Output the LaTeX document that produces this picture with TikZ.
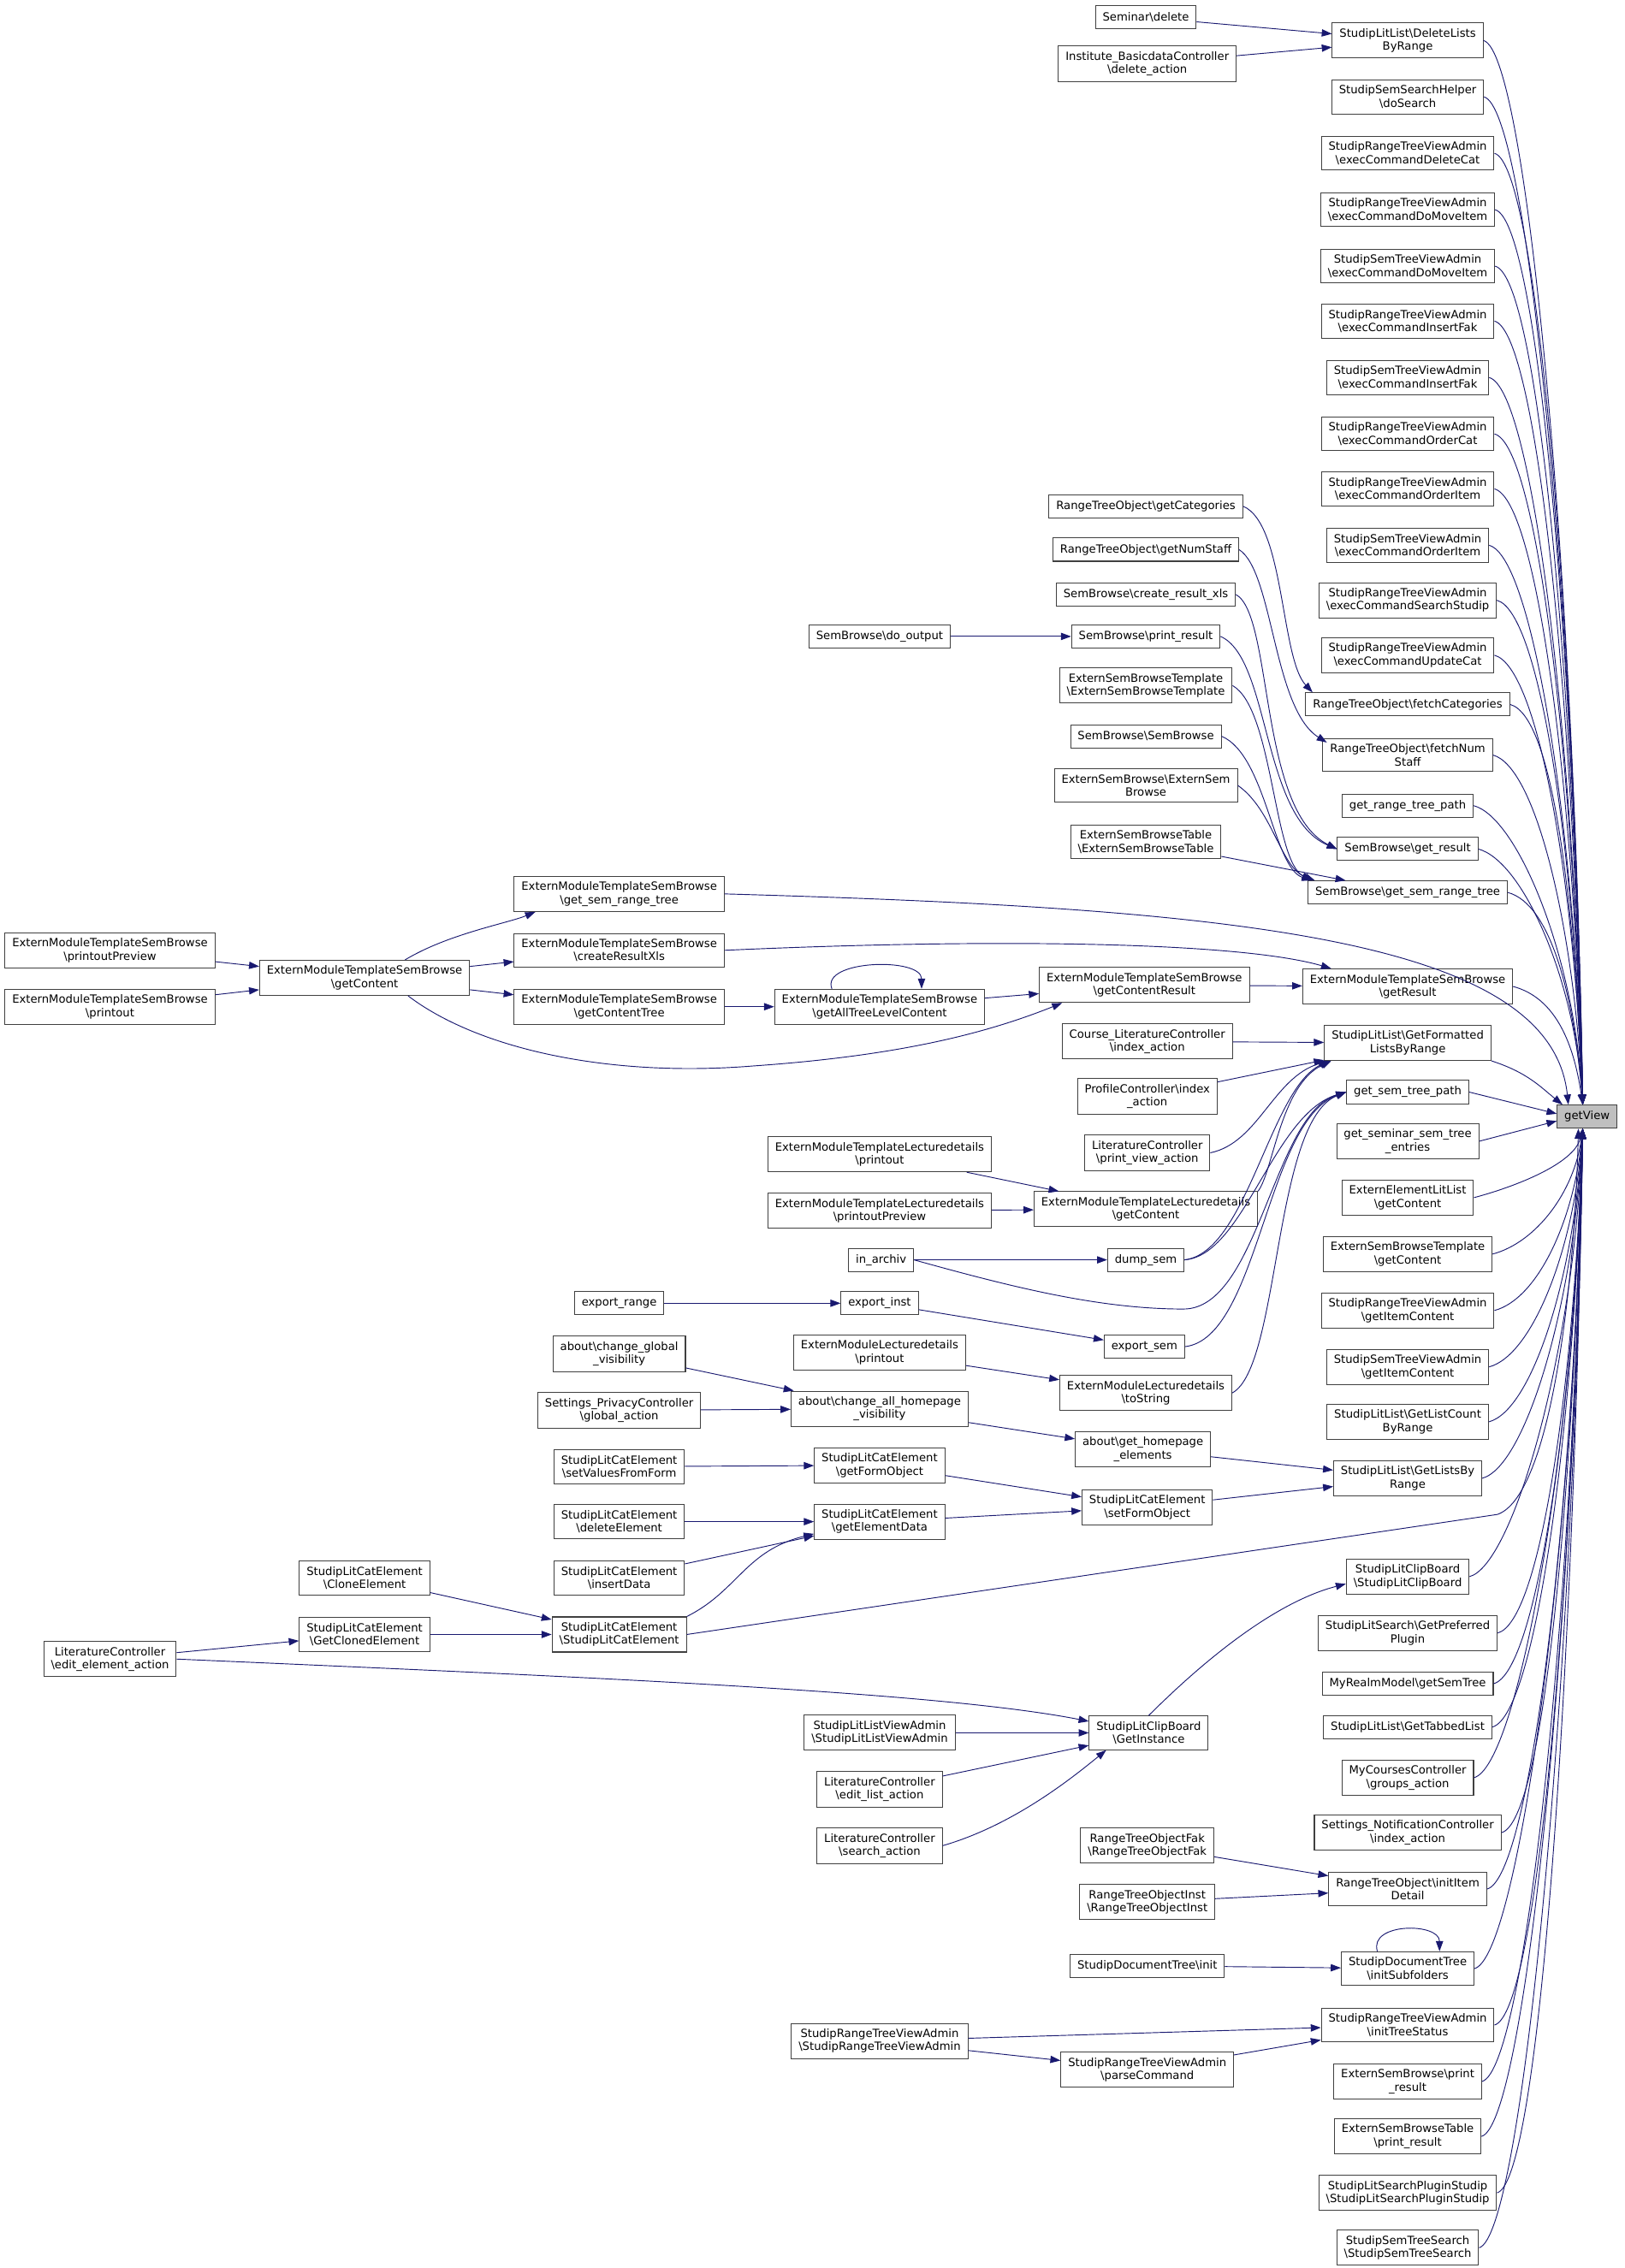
\documentclass[tikz,border=0pt]{standalone}
\usepackage{fontspec}
\setmainfont{DejaVu Sans}
\usetikzlibrary{arrows.meta}
\definecolor{callblue}{HTML}{191970}
\definecolor{boxgrey}{HTML}{404040}
\newcommand{\bsl}{\textbackslash}
\tikzset{
  fn/.style={draw=boxgrey, line width=0.6pt, fill=white, align=center, inner xsep=5pt, inner ysep=3.8pt, minimum height=16pt, font=\fontsize{7.8}{9.1}\selectfont},
  call/.style={draw=callblue, line width=0.55pt, -{Triangle[length=7pt,width=5pt]}}
}
\begin{document}
\begin{tikzpicture}[x=1pt,y=-1pt]
\useasboundingbox (0,0) rectangle (1123,1568);

	% callee
	\node [fn, fill=black!25] (getview) at (1097,772) {getView};

	% direct callers
	\node [fn] (r1)  at (973,28)   {StudipLitList\bsl DeleteLists\\ByRange};
	\node [fn] (r2)  at (973,67)   {StudipSemSearchHelper\\\bsl doSearch};
	\node [fn] (r3)  at (973,106)  {StudipRangeTreeViewAdmin\\\bsl execCommandDeleteCat};
	\node [fn] (r4)  at (973,145)  {StudipRangeTreeViewAdmin\\\bsl execCommandDoMoveItem};
	\node [fn] (r5)  at (973,184)  {StudipSemTreeViewAdmin\\\bsl execCommandDoMoveItem};
	\node [fn] (r6)  at (973,222)  {StudipRangeTreeViewAdmin\\\bsl execCommandInsertFak};
	\node [fn] (r7)  at (973,261)  {StudipSemTreeViewAdmin\\\bsl execCommandInsertFak};
	\node [fn] (r8)  at (973,300)  {StudipRangeTreeViewAdmin\\\bsl execCommandOrderCat};
	\node [fn] (r9)  at (973,338)  {StudipRangeTreeViewAdmin\\\bsl execCommandOrderItem};
	\node [fn] (r10) at (973,377)  {StudipSemTreeViewAdmin\\\bsl execCommandOrderItem};
	\node [fn] (r11) at (973,415)  {StudipRangeTreeViewAdmin\\\bsl execCommandSearchStudip};
	\node [fn] (r12) at (973,453)  {StudipRangeTreeViewAdmin\\\bsl execCommandUpdateCat};
	\node [fn] (r13) at (973,487)  {RangeTreeObject\bsl fetchCategories};
	\node [fn] (r14) at (973,522)  {RangeTreeObject\bsl fetchNum\\Staff};
	\node [fn] (r15) at (973,557)  {get\_range\_tree\_path};
	\node [fn] (r16) at (973,587)  {SemBrowse\bsl get\_result};
	\node [fn] (r17) at (973,617)  {SemBrowse\bsl get\_sem\_range\_tree};
	\node [fn] (r18) at (973,682)  {ExternModuleTemplateSemBrowse\\\bsl getResult};
	\node [fn] (r19) at (973,721)  {StudipLitList\bsl GetFormatted\\ListsByRange};
	\node [fn] (r20) at (973,755)  {get\_sem\_tree\_path};
	\node [fn] (r21) at (973,789)  {get\_seminar\_sem\_tree\\\_entries};
	\node [fn] (r22) at (973,828)  {ExternElementLitList\\\bsl getContent};
	\node [fn] (r23) at (973,867)  {ExternSemBrowseTemplate\\\bsl getContent};
	\node [fn] (r24) at (973,906)  {StudipRangeTreeViewAdmin\\\bsl getItemContent};
	\node [fn] (r25) at (973,945)  {StudipSemTreeViewAdmin\\\bsl getItemContent};
	\node [fn] (r26) at (973,983)  {StudipLitList\bsl GetListCount\\ByRange};
	\node [fn] (r27) at (973,1022) {StudipLitList\bsl GetListsBy\\Range};
	\node [fn] (r28) at (973,1090) {StudipLitClipBoard\\\bsl StudipLitClipBoard};
	\node [fn] (r29) at (973,1129) {StudipLitSearch\bsl GetPreferred\\Plugin};
	\node [fn] (r30) at (973,1164) {MyRealmModel\bsl getSemTree};
	\node [fn] (r31) at (973,1194) {StudipLitList\bsl GetTabbedList};
	\node [fn] (r32) at (973,1229) {MyCoursesController\\\bsl groups\_action};
	\node [fn] (r33) at (973,1267) {Settings\_NotificationController\\\bsl index\_action};
	\node [fn] (r34) at (973,1306) {RangeTreeObject\bsl initItem\\Detail};
	\node [fn] (r35) at (973,1361) {StudipDocumentTree\\\bsl initSubfolders};
	\node [fn] (r36) at (973,1400) {StudipRangeTreeViewAdmin\\\bsl initTreeStatus};
	\node [fn] (r37) at (973,1439) {ExternSemBrowse\bsl print\\\_result};
	\node [fn] (r38) at (973,1477) {ExternSemBrowseTable\\\bsl print\_result};
	\node [fn] (r39) at (973,1516) {StudipLitSearchPluginStudip\\\bsl StudipLitSearchPluginStudip};
	\node [fn] (r40) at (973,1554) {StudipSemTreeSearch\\\bsl StudipSemTreeSearch};

	% second level
	\node [fn] (sdelete)    at (792,12)   {Seminar\bsl delete};
	\node [fn] (instdel)    at (793,44)   {Institute\_BasicdataController\\\bsl delete\_action};
	\node [fn] (getcat)     at (792,350)  {RangeTreeObject\bsl getCategories};
	\node [fn] (getnum)     at (792,380)  {RangeTreeObject\bsl getNumStaff};
	\node [fn] (xls)        at (792,411)  {SemBrowse\bsl create\_result\_xls};
	\node [fn] (printres)   at (792,440)  {SemBrowse\bsl print\_result};
	\node [fn] (esbtctor)   at (792,474)  {ExternSemBrowseTemplate\\\bsl ExternSemBrowseTemplate};
	\node [fn] (sbctor)     at (792,509)  {SemBrowse\bsl SemBrowse};
	\node [fn] (esbctor)    at (792,543)  {ExternSemBrowse\bsl ExternSem\\Browse};
	\node [fn] (esbtabctor) at (792,582)  {ExternSemBrowseTable\\\bsl ExternSemBrowseTable};
	\node [fn] (contres)    at (791,681)  {ExternModuleTemplateSemBrowse\\\bsl getContentResult};
	\node [fn] (courselit)  at (793,720)  {Course\_LiteratureController\\\bsl index\_action};
	\node [fn] (profile)    at (793,758)  {ProfileController\bsl index\\\_action};
	\node [fn] (printview)  at (793,797)  {LiteratureController\\\bsl print\_view\_action};
	\node [fn] (lecget)     at (792,836)  {ExternModuleTemplateLecturedetails\\\bsl getContent};
	\node [fn] (dumpsem)    at (792,871)  {dump\_sem};
	\node [fn] (exportsem)  at (791,931)  {export\_sem};
	\node [fn] (tostring)   at (792,963)  {ExternModuleLecturedetails\\\bsl toString};
	\node [fn] (homeelem)   at (790,1002) {about\bsl get\_homepage\\\_elements};
	\node [fn] (setform)    at (793,1042) {StudipLitCatElement\\\bsl setFormObject};
	\node [fn] (getinst)    at (794,1198) {StudipLitClipBoard\\\bsl GetInstance};
	\node [fn] (rtofak)     at (793,1276) {RangeTreeObjectFak\\\bsl RangeTreeObjectFak};
	\node [fn] (rtoinst)    at (793,1315) {RangeTreeObjectInst\\\bsl RangeTreeObjectInst};
	\node [fn] (doctree)    at (793,1359) {StudipDocumentTree\bsl init};
	\node [fn] (parsecmd)   at (793,1431) {StudipRangeTreeViewAdmin\\\bsl parseCommand};

	% third level
	\node [fn] (dooutput)   at (608,440)  {SemBrowse\bsl do\_output};
	\node [fn] (alltree)    at (608,696)  {ExternModuleTemplateSemBrowse\\\bsl getAllTreeLevelContent};
	\node [fn] (lecprint)   at (608,798)  {ExternModuleTemplateLecturedetails\\\bsl printout};
	\node [fn] (lecpreview) at (608,837)  {ExternModuleTemplateLecturedetails\\\bsl printoutPreview};
	\node [fn] (inarchiv)   at (609,871)  {in\_archiv};
	\node [fn] (exportinst) at (608,901)  {export\_inst};
	\node [fn] (emlprint)   at (608,935)  {ExternModuleLecturedetails\\\bsl printout};
	\node [fn] (changeall)  at (608,974)  {about\bsl change\_all\_homepage\\\_visibility};
	\node [fn] (getform)    at (608,1013) {StudipLitCatElement\\\bsl getFormObject};
	\node [fn] (elemdata)   at (608,1052) {StudipLitCatElement\\\bsl getElementData};
	\node [fn] (listview)   at (608,1198) {StudipLitListViewAdmin\\\bsl StudipLitListViewAdmin};
	\node [fn] (editlist)   at (608,1237) {LiteratureController\\\bsl edit\_list\_action};
	\node [fn] (searchact)  at (608,1276) {LiteratureController\\\bsl search\_action};
	\node [fn] (rtvactor)   at (608,1411) {StudipRangeTreeViewAdmin\\\bsl StudipRangeTreeViewAdmin};

	% fourth level
	\node [fn] (semrange)   at (428,618)  {ExternModuleTemplateSemBrowse\\\bsl get\_sem\_range\_tree};
	\node [fn] (createxls)  at (428,657)  {ExternModuleTemplateSemBrowse\\\bsl createResultXls};
	\node [fn] (conttree)   at (428,696)  {ExternModuleTemplateSemBrowse\\\bsl getContentTree};
	\node [fn] (exportrange) at (428,901) {export\_range};
	\node [fn] (changeglob) at (428,936)  {about\bsl change\_global\\\_visibility};
	\node [fn] (privacy)    at (428,975)  {Settings\_PrivacyController\\\bsl global\_action};
	\node [fn] (setvalues)  at (428,1014) {StudipLitCatElement\\\bsl setValuesFromForm};
	\node [fn] (delelem)    at (428,1052) {StudipLitCatElement\\\bsl deleteElement};
	\node [fn] (insdata)    at (428,1091) {StudipLitCatElement\\\bsl insertData};
	\node [fn] (catelem)    at (428,1130) {StudipLitCatElement\\\bsl StudipLitCatElement};

	% fifth and sixth level
	\node [fn] (getcontent) at (252,676)  {ExternModuleTemplateSemBrowse\\\bsl getContent};
	\node [fn] (cloneelem)  at (252,1091) {StudipLitCatElement\\\bsl CloneElement};
	\node [fn] (getcloned)  at (252,1130) {StudipLitCatElement\\\bsl GetClonedElement};
	\node [fn] (preview)    at (76,657)   {ExternModuleTemplateSemBrowse\\\bsl printoutPreview};
	\node [fn] (printout)   at (76,696)   {ExternModuleTemplateSemBrowse\\\bsl printout};
	\node [fn] (editelem)   at (76,1147)  {LiteratureController\\\bsl edit\_element\_action};

	% calls into getView
	\foreach \n/\d in {r1/368, r2/349, r3/328, r4/309, r5/290, r6/271, r7/252, r8/232, r9/213, r10/194, r11/175, r12/156, r13/139, r14/121, r15/104, r16/89, r17/74, r18/41}
		\draw [call] (\n.east) .. controls +(30,8) and +(-6,-\d) .. ([xshift=-3pt]getview.north);
	\foreach \n/\d in {r22/24, r23/44, r24/63, r25/83, r26/102, r27/121, r28/155, r29/175, r30/192, r31/207, r32/225, r33/244, r34/263, r35/291, r36/310, r37/330, r38/349, r39/368, r40/387}
		\draw [call] (\n.east) .. controls +(30,-8) and +(-6,\d) .. ([xshift=-3pt]getview.south);
	\draw [call] (r19.south east) .. controls +(25,8) and +(-15,-12) .. ([xshift=4pt]getview.north west);
	\draw [call] (r20.east) -- ([yshift=2pt]getview.west);
	\draw [call] (r21.east) -- ([yshift=-3pt]getview.west);
	\draw [call] (semrange.east) .. controls (850,628) and (1072,648) .. ([xshift=8pt]getview.north west);
	\draw [call] (catelem.east) -- (1035,1047) .. controls (1070,1035) and (1088,900) .. ([xshift=-6pt]getview.south);

	% upper part
	\draw [call] (sdelete) -- (r1);
	\draw [call] (instdel) -- (r1);
	\draw [call] (getcat.east) .. controls (888,362) and (885,455) .. ([xshift=5pt]r13.north west);
	\draw [call] (getnum.east) .. controls (880,395) and (880,490) .. ([xshift=3pt,yshift=-3pt]r14.north west);
	\draw [call] (xls.east) .. controls (880,425) and (870,560) .. (r16.west);
	\draw [call] (printres.east) .. controls (878,455) and (872,565) .. (r16.west);
	\draw [call] (dooutput) -- (printres);
	\draw [call] (esbtctor.east) .. controls (880,490) and (880,595) .. ([xshift=3pt]r17.north west);
	\draw [call] (sbctor.east) .. controls (875,522) and (880,600) .. ([xshift=3pt]r17.north west);
	\draw [call] (esbctor.east) .. controls (880,560) and (885,600) .. ([xshift=5pt]r17.north west);
	\draw [call] (esbtabctor) -- (r17);

	% ExternModuleTemplateSemBrowse
	\draw [call] (preview) -- (getcontent);
	\draw [call] (printout) -- (getcontent);
	\draw [call] ([xshift=28pt]getcontent.north) .. controls +(30,-18) and +(-20,8) .. ([xshift=-58pt]semrange.south);
	\draw [call] (getcontent) -- (createxls);
	\draw [call] (getcontent) -- (conttree);
	\draw [call] ([xshift=30pt]getcontent.south) .. controls (330,725) and (420,745) .. (520,737) .. controls (620,730) and (680,715) .. ([xshift=16pt]contres.south west);
	\draw [call] (conttree) -- (alltree);
	\draw [call] ([xshift=-33pt]alltree.north) .. controls +(-8,-20) and +(0,-22) .. ([xshift=29pt]alltree.north);
	\draw [call] (alltree) -- (contres);
	\draw [call] (contres) -- (r18);
	\draw [call] (createxls.east) .. controls (700,648) and (860,652) .. ([xshift=20pt]r18.north west);

	% literature lists and seminar tree paths
	\draw [call] (courselit) -- (r19);
	\draw [call] (profile) -- (r19);
	\draw [call] (printview.east) .. controls (870,790) and (880,745) .. ([xshift=3pt]r19.south west);
	\draw [call] (lecget.north east) .. controls (880,810) and (885,750) .. ([xshift=5pt]r19.south west);
	\draw [call] (lecprint) -- (lecget);
	\draw [call] (lecpreview) -- (lecget);
	\draw [call] (inarchiv) -- (dumpsem);
	\draw [call] (dumpsem.east) .. controls (860,868) and (880,770) .. (r20.west);
	\draw [call] (dumpsem.east) .. controls (862,866) and (878,752) .. ([xshift=4pt]r19.south west);
	\draw [call] (inarchiv.east) .. controls (700,890) and (760,905) .. (818,905) .. controls (870,905) and (880,770) .. (r20.west);
	\draw [call] (exportrange) -- (exportinst);
	\draw [call] (exportinst) -- (exportsem);
	\draw [call] (exportsem.east) .. controls (870,925) and (875,775) .. (r20.west);
	\draw [call] (emlprint) -- (tostring);
	\draw [call] (tostring.east) .. controls (885,945) and (880,775) .. (r20.west);

	% homepage and lit elements
	\draw [call] (changeglob) -- (changeall);
	\draw [call] (privacy) -- (changeall);
	\draw [call] (changeall) -- (homeelem);
	\draw [call] (homeelem) -- (r27);
	\draw [call] (setform) -- (r27);
	\draw [call] (setvalues) -- (getform);
	\draw [call] (getform) -- (setform);
	\draw [call] (elemdata) -- (setform);
	\draw [call] (delelem) -- (elemdata);
	\draw [call] (insdata) -- (elemdata);
	\draw [call] (catelem.north east) .. controls (510,1100) and (515,1072) .. ([yshift=4pt]elemdata.south west);
	\draw [call] (cloneelem) -- (catelem);
	\draw [call] (getcloned) -- (catelem);
	\draw [call] (editelem) -- (getcloned);
	\draw [call] (editelem.east) .. controls (420,1160) and (650,1170) .. ([yshift=-4pt]getinst.north west);

	% clipboard
	\draw [call] (getinst.north) .. controls (830,1150) and (880,1108) .. ([yshift=-5pt]r28.west);
	\draw [call] (listview) -- (getinst);
	\draw [call] (editlist) -- (getinst);
	\draw [call] (searchact.east) .. controls (700,1262) and (740,1230) .. ([xshift=12pt]getinst.south west);

	% range tree objects and admin views
	\draw [call] (rtofak) -- (r34);
	\draw [call] (rtoinst) -- (r34);
	\draw [call] (doctree) -- (r35);
	\draw [call] ([xshift=-21pt]r35.north) .. controls +(-6,-20) and +(0,-20) .. ([xshift=22pt]r35.north);
	\draw [call] (rtvactor) -- (r36);
	\draw [call] (rtvactor) -- (parsecmd);
	\draw [call] (parsecmd) -- (r36);

\end{tikzpicture}
\end{document}
